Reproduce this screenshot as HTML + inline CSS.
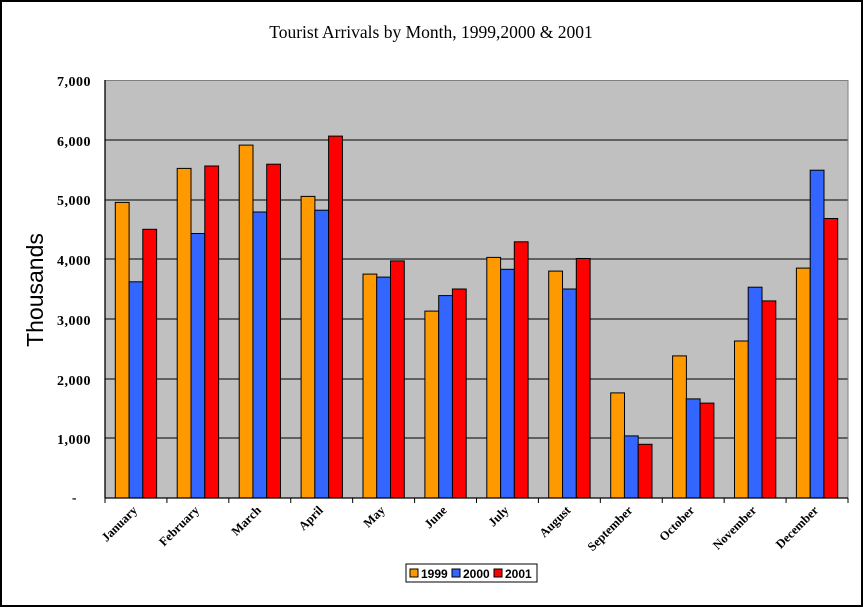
<!DOCTYPE html>
<html><head><style>body{margin:0;background:#fff}svg{display:block}</style></head><body>
<svg width="864" height="608" xmlns="http://www.w3.org/2000/svg">
<rect x="1" y="1" width="861" height="605" fill="#fff" stroke="#000" stroke-width="2"/>
<text x="431" y="38" text-anchor="middle" font-family="Liberation Serif, serif" font-size="17.5">Tourist Arrivals by Month, 1999,2000 &amp; 2001</text>
<text transform="translate(43,290) rotate(-90)" text-anchor="middle" font-family="Liberation Sans, sans-serif" font-size="23">Thousands</text>
<rect x="105" y="80" width="743" height="418" fill="#c0c0c0"/>
<g stroke="#000" stroke-width="1">
<line x1="105" y1="140" x2="848" y2="140"/><line x1="105" y1="200" x2="848" y2="200"/><line x1="105" y1="259" x2="848" y2="259"/><line x1="105" y1="319" x2="848" y2="319"/><line x1="105" y1="379" x2="848" y2="379"/><line x1="105" y1="438" x2="848" y2="438"/>
</g>
<line x1="105" y1="80.5" x2="848" y2="80.5" stroke="#808080"/>
<line x1="848" y1="80" x2="848" y2="498" stroke="#808080"/>
<g id="bars" stroke="#000" stroke-width="1"></g>
<g stroke="#000" stroke-width="1.3">
<line x1="105" y1="80" x2="105" y2="498"/><line x1="105" y1="498" x2="848" y2="498"/>
</g>
<g id="ticks" stroke="#000"></g>
<g font-family="Liberation Serif, serif" font-size="14" font-weight="bold" text-anchor="end" letter-spacing="0.5">
<text x="91" y="86">7,000</text><text x="91" y="146">6,000</text><text x="91" y="205">5,000</text><text x="91" y="265">4,000</text><text x="91" y="325">3,000</text><text x="91" y="385">2,000</text><text x="91" y="444">1,000</text><text x="77" y="502">-</text>
</g>
<g id="labels" font-family="Liberation Serif, serif" font-size="12.5" font-weight="bold" text-anchor="end"></g>
<rect x="406" y="564" width="131" height="18" fill="#fff" stroke="#000"/>
<g font-family="Liberation Sans, sans-serif" font-size="12" font-weight="bold">
<rect x="410" y="569" width="8" height="8" fill="#ff9900" stroke="#000"/><text x="421" y="578">1999</text>
<rect x="452" y="569" width="8" height="8" fill="#3366ff" stroke="#000"/><text x="463" y="578">2000</text>
<rect x="494" y="569" width="8" height="8" fill="#ff0000" stroke="#000"/><text x="505" y="578">2001</text>
</g>
<script>
var d=[[4950,3620,4500],[5520,4430,5560],[5910,4790,5590],[5050,4820,6060],[3750,3700,3970],[3130,3390,3500],[4030,3830,4290],[3800,3500,4010],[1760,1040,900],[2380,1660,1590],[2630,3530,3300],[3850,5490,4680]];
var m=["January","February","March","April","May","June","July","August","September","October","November","December"];
var c=["#ff9900","#3366ff","#ff0000"],ns="http://www.w3.org/2000/svg";
var g=document.getElementById("bars"),t=document.getElementById("ticks"),L=document.getElementById("labels");
var w=743/12,bw=w/4.5;
for(var i=0;i<12;i++){var s=105+i*w;
for(var j=0;j<3;j++){var h=d[i][j]*418/7000,r=document.createElementNS(ns,"rect");
r.setAttribute("x",(s+bw*0.75+j*bw).toFixed(1));r.setAttribute("y",(498-h).toFixed(1));r.setAttribute("width",bw.toFixed(1));r.setAttribute("height",h.toFixed(1));r.setAttribute("fill",c[j]);g.appendChild(r);}
var l=document.createElementNS(ns,"line");l.setAttribute("x1",s);l.setAttribute("x2",s);l.setAttribute("y1",498);l.setAttribute("y2",503);t.appendChild(l);
var tx=document.createElementNS(ns,"text");var cx=s+w/2+2,cy=511;tx.setAttribute("transform","translate("+cx+","+cy+") rotate(-45)");tx.textContent=m[i];L.appendChild(tx);}
var l=document.createElementNS(ns,"line");l.setAttribute("x1",848);l.setAttribute("x2",848);l.setAttribute("y1",498);l.setAttribute("y2",503);t.appendChild(l);
</script>
</svg>
</body></html>
